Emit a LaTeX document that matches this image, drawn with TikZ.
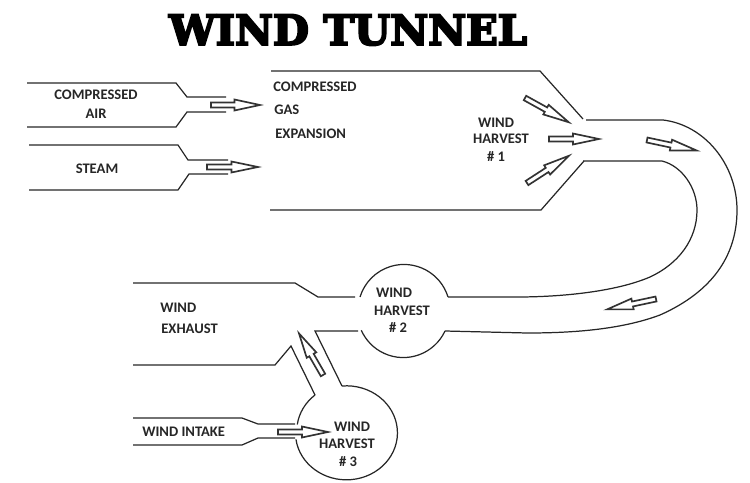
\documentclass[tikz,border=0pt]{standalone}
\usepackage{fontspec}
\setmainfont{Carlito}
\newfontfamily\titlefont[FakeBold=5]{DejaVu Serif Bold}
\tikzset{
  wall/.style={line width=0.7pt, black!85},
  flow/.style={line width=0.95pt, black!80, fill=white, line join=miter},
  tag/.style={font=\bfseries\fontsize{8.3}{10}\selectfont, text=black!85, inner sep=0pt},
}
% hollow block arrow: tail x, tail y, angle, length
\newcommand{\flowarrow}[4]{
  \draw[flow, shift={(#1,#2)}, rotate=#3] (0,-2.5) -- (#4*0.48,-2.5) -- (#4*0.48,-5.5) -- (#4,0)
    -- (#4*0.48,5.5) -- (#4*0.48,2.5) -- (0,2.5) -- cycle;
}
\begin{document}
\begin{tikzpicture}[x=0.02cm, y=-0.02cm]
\useasboundingbox (0,0) rectangle (750,483);
\node[font=\titlefont\fontsize{23.6}{28}\selectfont] (title) at (348,30) {WIND TUNNEL};
% inlet pipes
\draw[wall] (27,83) -- (176,83) -- (187,97) -- (226,97);
\draw[wall] (27,127) -- (176,127) -- (187,112) -- (226,112);
\draw[wall] (29,145) -- (178,145) -- (188,160) -- (228,160);
\draw[wall] (29,190) -- (178,190) -- (189,174) -- (228,174);
\node[tag] (air1) at (96,95) {COMPRESSED};
\node[tag] (air2) at (96,114) {AIR};
\node[tag] (steam) at (97,169) {STEAM};
\flowarrow{211}{105}{0}{49}
\flowarrow{207}{167}{0}{51}
% expansion chamber
\draw[wall] (271,71) -- (540,71) -- (583,119);
\draw[wall] (270,210) -- (541,210) -- (584,161);
\node[tag, anchor=west] (gas1) at (273,87) {COMPRESSED};
\node[tag, anchor=west] (gas2) at (274,110) {GAS};
\node[tag, anchor=west] (gas3) at (275,134) {EXPANSION};
\node[tag] (h1a) at (496,123) {WIND};
\node[tag] (h1b) at (501,139) {HARVEST};
\node[tag] (h1c) at (496,157) {\# 1};
\flowarrow{525}{98}{-29}{50}
\flowarrow{549}{139}{0}{50}
\flowarrow{527}{183}{33}{50}
% return duct
\draw[wall] (586,120) -- (663,120) .. controls (705,125) and (737,165) .. (737,210)
  .. controls (737,262) and (705,295) .. (660,315) .. controls (620,330) and (570,333) .. (527,333) -- (445,331);
\draw[wall] (583,161) -- (662,161) .. controls (682,166) and (697,188) .. (697,210)
  .. controls (697,240) and (678,264) .. (650,277) .. controls (615,292) and (560,297) .. (517,297) -- (448,297);
\flowarrow{647}{140}{-12}{51}
\flowarrow{656}{299}{192}{50}
% harvest 2
\draw[wall] (448,297) arc[start angle=-17, end angle=-163, radius=46];
\draw[wall] (445,331) arc[start angle=25, end angle=156, radius=46];
\draw[wall] (133,283) -- (295,283) -- (318,297) -- (355,297);
\draw[wall] (358,331) -- (315,331) -- (342,386);
\node[tag] (h2a) at (394,293) {WIND};
\node[tag] (h2b) at (402,311) {HARVEST};
\node[tag] (h2c) at (398,328) {\# 2};
\node[tag, anchor=west] (ex1) at (160,308) {WIND};
\node[tag, anchor=west] (ex2) at (161,329) {EXHAUST};
\draw[wall] (133,365) -- (275,365) -- (291,346) -- (315,395);
\flowarrow{323}{375}{120}{48}
% harvest 3
\draw[wall] (342,386) arc[start angle=-95, end angle=172, x radius=51, y radius=47];
\draw[wall] (315,395) arc[start angle=-130, end angle=-172, x radius=51, y radius=47];
\draw[wall] (133,418) -- (242,418) -- (258,424) -- (295,424);
\draw[wall] (133,445) -- (242,445) -- (258,438) -- (295,438);
\node[tag, anchor=west] (in1) at (142,432) {WIND INTAKE};
\flowarrow{278}{432}{0}{50}
\node[tag] (h3a) at (352,427) {WIND};
\node[tag] (h3b) at (347,444) {HARVEST};
\node[tag] (h3c) at (348,462) {\# 3};
\end{tikzpicture}
\end{document}
